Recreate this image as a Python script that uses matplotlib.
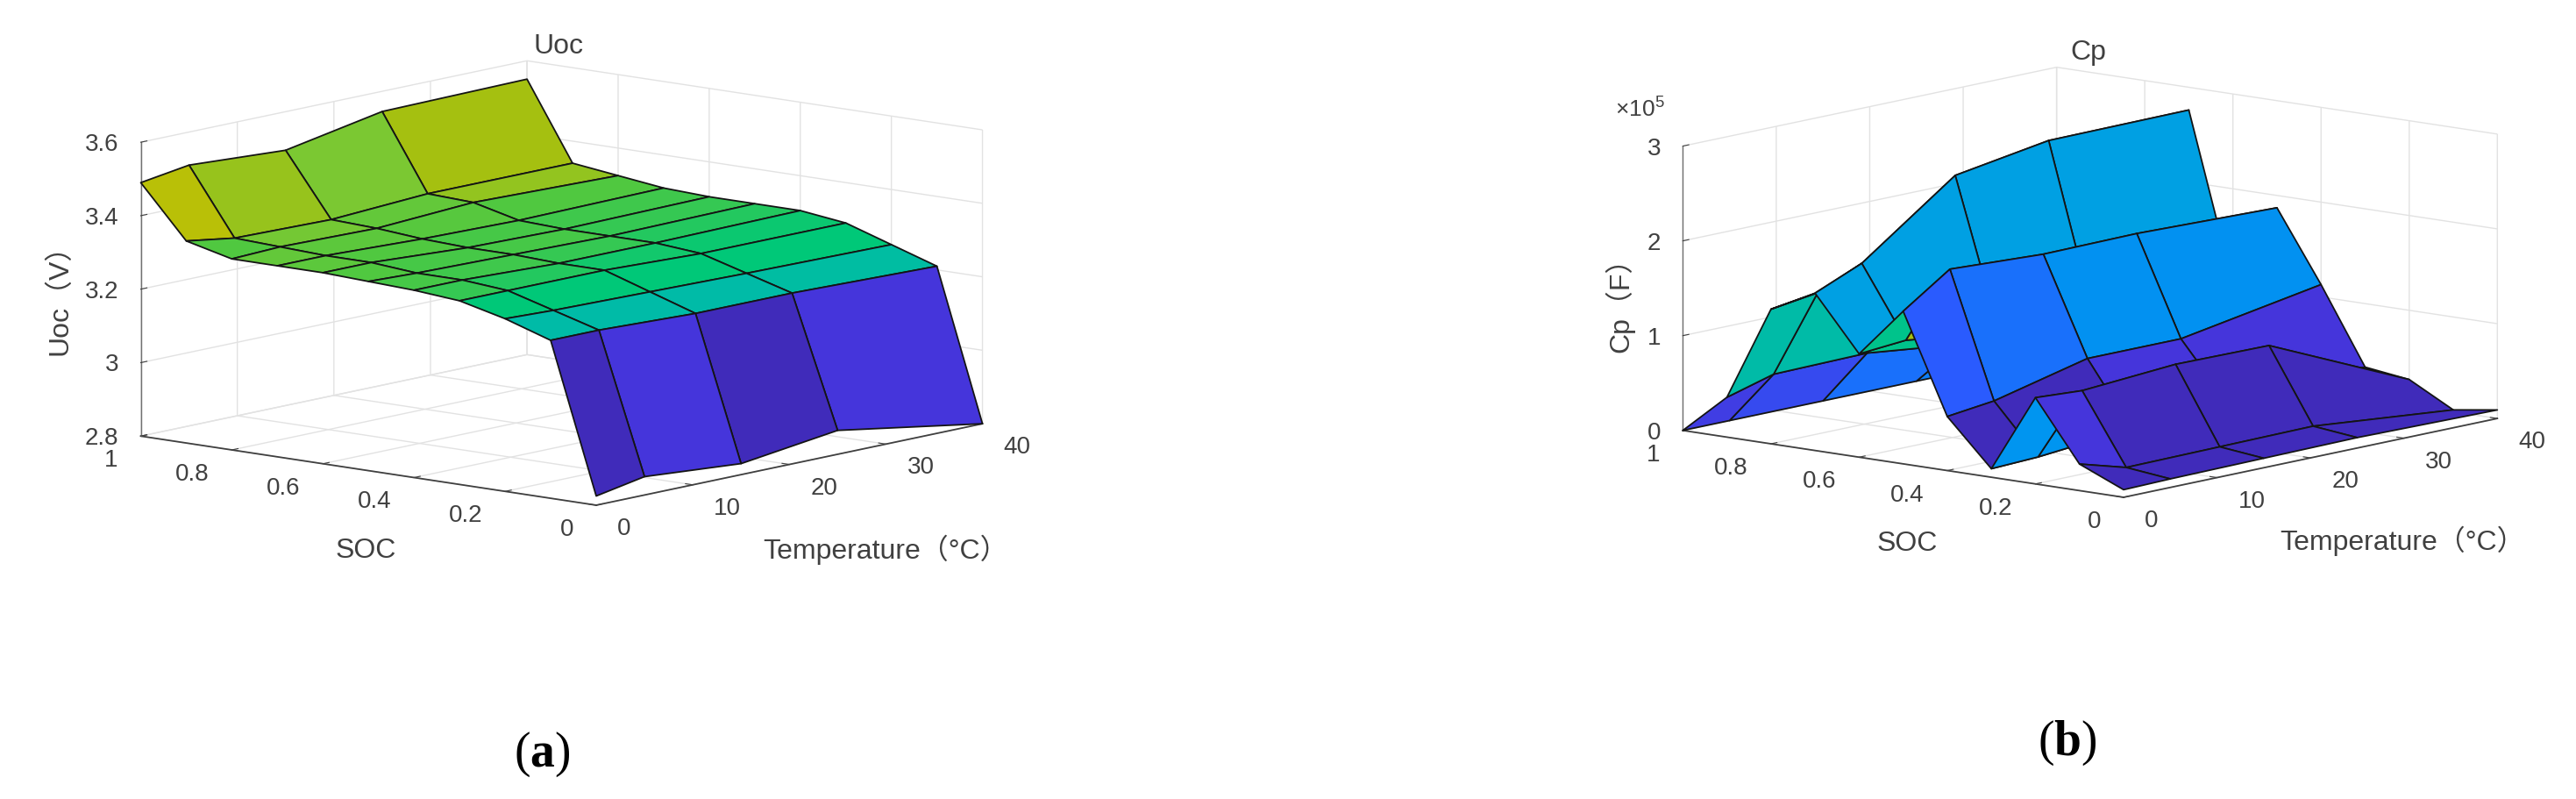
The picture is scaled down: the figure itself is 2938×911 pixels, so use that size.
import numpy as np
import matplotlib
matplotlib.use("Agg")
import matplotlib.pyplot as plt
from matplotlib.colors import LinearSegmentedColormap
from mpl_toolkits.mplot3d import proj3d

plt.rcParams['font.family'] = ['Liberation Sans', 'Noto Sans CJK SC']
plt.rcParams['mathtext.fontset'] = 'custom'
plt.rcParams['mathtext.bf'] = 'Liberation Serif:bold'
plt.rcParams['mathtext.rm'] = 'Liberation Sans'

temp = [0, 5, 15, 25, 40]
soc = [0, 0.1, 0.2, 0.3, 0.4, 0.5, 0.6, 0.7, 0.8, 0.9, 1]

# rows follow soc, columns follow temp
uoc = [
    [2.825, 2.85, 2.83, 2.865, 2.80],
    [3.23, 3.23, 3.22, 3.22, 3.21],
    [3.27, 3.265, 3.26, 3.255, 3.25],
    [3.30, 3.30, 3.30, 3.29, 3.29],
    [3.31, 3.31, 3.30, 3.30, 3.305],
    [3.315, 3.31, 3.305, 3.30, 3.305],
    [3.32, 3.32, 3.305, 3.30, 3.305],
    [3.32, 3.32, 3.31, 3.305, 3.31],
    [3.32, 3.325, 3.32, 3.335, 3.325],
    [3.35, 3.33, 3.325, 3.34, 3.34],
    [3.49, 3.51, 3.495, 3.545, 3.55],
]
cp = [
    [0.08, 0.09, 0.10, 0.11, 0.09],
    [0.28, 0.14, 0.15, 0.16, 0.02],
    [0.91, 0.88, 0.95, 0.94, 0.27],
    [0.09, 0.11, 0.20, 0.30, 0.33],
    [0.57, 0.63, 0.87, 0.87, 1.13],
    [1.61, 1.95, 1.90, 1.91, 1.87],
    [1.09, 1.13, 1.00, 1.00, 1.00],
    [1.66, 1.87, 2.59, 2.75, 2.76],
    [1.42, 1.49, 1.07, 1.00, 1.00],
    [0.42, 0.56, 0.575, 0.46, 0.40],
    [0.00, 0.00, 0.00, 0.00, 0.00],
]

# colour level of each face, one row per soc step, one column per temp step
uoc_level = [
    [0.03, 0.08, 0.03, 0.08],
    [0.50, 0.50, 0.50, 0.51],
    [0.58, 0.58, 0.58, 0.58],
    [0.64, 0.62, 0.60, 0.59],
    [0.66, 0.65, 0.64, 0.62],
    [0.67, 0.66, 0.66, 0.64],
    [0.69, 0.67, 0.66, 0.65],
    [0.70, 0.69, 0.68, 0.67],
    [0.67, 0.73, 0.70, 0.79],
    [0.88, 0.80, 0.74, 0.83],
]
cp_level = [
    [0.03, 0.03, 0.03, 0.03],
    [0.08, 0.03, 0.03, 0.03],
    [0.33, 0.33, 0.33, 0.33],
    [0.03, 0.03, 0.08, 0.08],
    [0.17, 0.22, 0.32, 0.32],
    [0.55, 0.83, 0.50, 0.50],
    [0.38, 0.38, 0.38, 0.38],
    [0.60, 0.50, 0.50, 0.50],
    [0.50, 0.50, 0.55, 0.55],
    [0.10, 0.13, 0.22, 0.26],
]

temp_ticks = [0, 10, 20, 30, 40]
temp_tick_labels = ['0', '10', '20', '30', '40']
soc_ticks = [0, 0.2, 0.4, 0.6, 0.8, 1]
soc_tick_labels = ['0', '0.2', '0.4', '0.6', '0.8', '1']
uoc_ticks = [2.8, 3, 3.2, 3.4, 3.6]
uoc_tick_labels = ['2.8', '3', '3.2', '3.4', '3.6']
cp_ticks = [0, 1, 2, 3]
cp_tick_labels = ['0', '1', '2', '3']

parula = LinearSegmentedColormap.from_list('parula', [
    (0.00, '#3e26a8'), (0.08, '#4535dc'), (0.17, '#2a5cff'), (0.25, '#0f7cf8'),
    (0.33, '#0095f0'), (0.42, '#00a8d8'), (0.50, '#00bba8'), (0.58, '#00c878'),
    (0.67, '#50c840'), (0.75, '#80c830'), (0.83, '#a4c010'), (0.92, '#c8c000'),
    (1.00, '#f9fb15')])

W, H = 2938, 912
TICK = 20
LABEL = 23
GREY = '#404040'

fig = plt.figure(figsize=(W / 100, H / 100), dpi=100)


def to_px(ax, x, y, z):
    xs, ys, _ = proj3d.proj_transform(x, y, z, ax.get_proj())
    return ax.transData.transform((xs, ys))


def place(ax, side, cx, cy):
    ax.set_position([(cx - side / 2) / W, (H - cy - side / 2) / H, side / W, side / H])


def px_text(x, y, s, **kw):
    kw.setdefault('ha', 'center')
    kw.setdefault('va', 'center')
    kw.setdefault('fontsize', LABEL)
    kw.setdefault('color', GREY)
    fig.text(x / W, 1 - y / H, s, **kw)


def panel(values, levels, zlim, zticks, zlabels, left, front, right):
    # left, front, right: pixel places of the three floor corners
    ax = fig.add_subplot(projection='3d', proj_type='ortho', computed_zorder=False)
    X, Y = np.meshgrid(temp, soc)
    Z = np.array(values)
    ax.set_xlim(0, 40)
    ax.set_ylim(0, 1)
    ax.set_zlim(*zlim)
    ax.view_init(elev=10.3, azim=-139.7)
    ax.set_box_aspect((2, 2, 1), zoom=1)
    ax.patch.set_alpha(0)

    # scale the axes box until the floor corners land where they should
    side, cx, cy = 1000.0, front[0], 300.0
    for i in range(3):
        place(ax, side, cx, cy)
        fig.canvas.draw()
        a = to_px(ax, 0, 1, zlim[0])
        b = to_px(ax, 40, 0, zlim[0])
        side = side * (right[0] - left[0]) / (b[0] - a[0])
        place(ax, side, cx, cy)
        fig.canvas.draw()
        f = to_px(ax, 0, 0, zlim[0])
        cx += front[0] - f[0]
        cy += (H - front[1]) * -1 + f[1]
    place(ax, side, cx, cy)

    colors = parula(np.array(levels))
    ax.plot_surface(X, Y, Z, facecolors=colors, rstride=1, cstride=1, shade=False,
                    edgecolor='#141414', linewidth=1.3, antialiased=True)

    ax.set_xticks(temp_ticks)
    ax.set_yticks(soc_ticks)
    ax.set_zticks(zticks)
    ax.set_xticklabels([])
    ax.set_yticklabels([])
    ax.set_zticklabels([])
    ax.tick_params(color=GREY, width=1.2)
    for axis in (ax.xaxis, ax.yaxis, ax.zaxis):
        axis.set_pane_color((1, 1, 1, 0))
        axis.pane.set_edgecolor('#e2e2e2')
        axis.line.set_color(GREY)
        axis.line.set_linewidth(1.3)
        axis._axinfo['grid']['color'] = '#e2e2e2'
        axis._axinfo['grid']['linewidth'] = 1.0
        axis._axinfo['tick']['inward_factor'] = 0.0
        axis._axinfo['tick']['outward_factor'] = 0.2
    ax.zaxis.line.set_color('#707070')
    ax.zaxis.line.set_linewidth(1.0)
    ax.grid(True)

    # tick labels sit at a fixed pixel offset from their tick on the axis box
    fig.canvas.draw()
    for t, s in zip(temp_ticks, temp_tick_labels):
        p = to_px(ax, t, 0, zlim[0])
        px_text(p[0] + 24, H - p[1] + 26, s, ha='left', fontsize=TICK)
    for t, s in zip(soc_ticks, soc_tick_labels):
        p = to_px(ax, 0, t, zlim[0])
        px_text(p[0] - 26, H - p[1] + 27, s, ha='right', fontsize=TICK)
    for t, s in zip(zticks, zlabels):
        p = to_px(ax, 0, 1, t)
        px_text(p[0] - 25, H - p[1] + 2, s, ha='right', fontsize=TICK)
    return ax


panel(uoc, uoc_level, (2.8, 3.6), uoc_ticks, uoc_tick_labels,
      (157, 500), (680, 577), (1117, 485))
panel(cp, cp_level, (0, 3), cp_ticks, cp_tick_labels,
      (1917, 490), (2422, 568), (2846, 480))

px_text(637, 53, 'Uoc')
px_text(68, 334, 'Uoc（V）', rotation=90)
px_text(417, 628, 'SOC')
px_text(1010, 627, 'Temperature（°C）')
px_text(2382, 60, 'Cp')
px_text(1847, 340, 'Cp（F）', rotation=90)
px_text(2175, 620, 'SOC')
px_text(2740, 617, 'Temperature（°C）')
px_text(1870, 124, r'$\times$10$^{5}$', fontsize=TICK - 1)

px_text(618, 860, r'($\mathbf{a}$)', fontsize=40, color='black', family='Liberation Serif')
px_text(2358, 847, r'($\mathbf{b}$)', fontsize=40, color='black', family='Liberation Serif')

fig.savefig('out.png', dpi=100)
